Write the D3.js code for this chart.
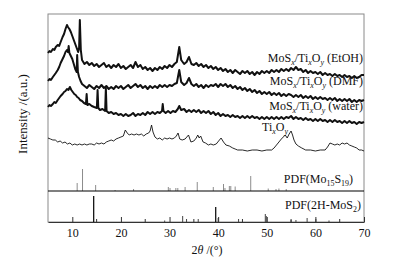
<!DOCTYPE html>
<html>
<head>
<meta charset="utf-8">
<script src="https://cdn.jsdelivr.net/npm/d3@7"></script>
<style>
  body { margin: 0; background: #fff; }
  svg { display: block; font-family: "Liberation Serif", "DejaVu Serif", serif; }
</style>
</head>
<body>
<svg id="chart" width="393" height="267"></svg>
<script>
// 2theta (deg), stacked intensity (a.u.)
const etoh = [[5,169],[5.3,171],[5.6,170],[6,173],[6.3,172],[6.6,175],[7,177],[7.3,176],[7.6,180],[8,185],[8.3,188],[8.6,193],[8.9,197],[9.1,195],[9.4,193],[9.7,190],[10,186],[10.3,182],[10.6,178],[10.9,174],[11.2,170],[11.4,174],[11.55,202],[11.75,172],[12,162],
  [12.5,158],[13,160],[13.5,157],[14,159],[14.5,156],[15,158],[15.5,155],[16,157],[16.5,159],[17,155],[17.5,157],[18,154],[18.5,157],[19,155],[19.5,158],[20,154],[20.5,156],[21,153],[21.5,155],[22,157],[22.5,154],[23,160],[23.5,155],[24,157],[24.5,153],[25,155],[25.5,152],[26,154],[26.5,151],[27,154],[27.5,152],[28,155],[28.5,153],[29,156],[29.5,154],[30,157],[30.5,155],[31,158],[31.5,160],[32,175],[32.4,162],[33,158],[33.5,160],[34,165],[34.5,158],[35,157],[35.5,159],[36,156],[36.5,158],[37,155],[37.5,157],[38,154],[38.5,156],[39,153],[39.5,155],[40,152],[40.5,154],[41,151],[41.5,153],[42,150],[42.5,152],[43,149],[43.5,152],[44,150],[44.5,148],[45,151],[45.5,149],[46,151],[46.5,148],[47,150],[47.5,147],[48,150],[48.5,148],[49,151],[49.5,149],[50,151],[50.5,149],[51,152],[51.5,150],[52,152],[52.5,150],[53,153],[53.5,151],[54,153],[54.5,151],[55,154],[55.5,152],[56,155],[56.5,152],[57,153],[57.5,150],[58,152],[58.5,149],[59,151],[59.5,149],[60,150],[60.5,148],[61,150],[61.5,147],[62,149],[62.5,147],[63,148],[63.5,146],[64,148],[64.5,146],[65,147],[65.5,145],[66,147],[66.5,145],[67,146],[67.5,144],[68,146],[68.5,144],[69,145],[69.5,147],[70,147]];

const dmf = [[5,141],[5.3,143],[5.6,142],[6,145],[6.3,147],[6.6,149],[7,152],[7.3,155],[7.6,159],[8,163],[8.3,166],[8.6,170],[8.9,172],[9.1,170],[9.25,176],[9.4,169],[9.7,166],[10,163],[10.3,158],[10.6,153],[10.9,150],[11,167],[11.15,150],[11.4,145],[11.7,141],[12,138],
  [12.5,136],[13,134],[13.5,137],[14,135],[14.5,133],[15,136],[15.5,134],[16,137],[16.5,134],[17,136],[17.5,133],[18,135],[18.5,133],[19,136],[19.5,134],[20,136],[20.5,133],[21,135],[21.5,137],[22,134],[22.5,136],[23,138],[23.5,135],[24,137],[24.5,134],[25,136],[25.5,133],[26,136],[26.5,134],[27,136],[27.5,134],[28,137],[28.5,135],[29,137],[29.5,135],[30,137],[30.5,136],[31,138],[31.5,139],[32,152],[32.4,140],[33,137],[33.5,139],[34,144],[34.5,138],[35,136],[35.5,138],[36,135],[36.5,137],[37,134],[37.5,137],[38,135],[38.5,137],[39,136],[39.5,138],[40,135],[40.5,138],[41,136],[41.5,138],[42,135],[42.5,137],[43,134],[43.5,136],[44,133],[44.5,135],[45,132],[45.5,134],[46,131],[46.5,133],[47,130],[47.5,132],[48,129],[48.5,131],[49,128],[49.5,130],[50,128],[50.5,130],[51,127],[51.5,129],[52,127],[52.5,129],[53,126],[53.5,128],[54,126],[54.5,128],[55,127],[55.5,125],[56,127],[56.5,125],[57,127],[57.5,124],[58,126],[58.5,124],[59,126],[59.5,123],[60,125],[60.5,123],[61,125],[61.5,123],[62,124],[62.5,122],[63,124],[63.5,122],[64,124],[64.5,121],[65,123],[65.5,121],[66,123],[66.5,121],[67,123],[67.5,120],[68,122],[68.5,120],[69,122],[69.5,121],[70,122]];

const water = [[5,115],[5.3,117],[5.6,116],[6,118],[6.3,120],[6.6,119],[7,122],[7.3,124],[7.6,126],[8,128],[8.3,130],[8.6,131],[8.9,133],[9.2,132],[9.5,135],[9.8,132],[10.1,130],[10.4,128],[10.7,127],[11,125],[11.3,124],[11.6,122],[12,121],[12.4,119],[12.8,118],[12.95,128],[13.1,117],[13.5,118],[14,116],[14.5,115],[15.05,114],[15.2,132],[15.35,114],[15.7,112],[16.2,113],[16.75,111],[16.9,134],[17.05,111],[17.5,109],[18,110],[18.5,108],[19,109],[19.5,107],[20,108],[20.5,106],[21,108],[21.5,106],[22,107],[22.5,109],[23,106],[23.5,108],[24,107],[24.5,109],[25,107],[25.5,110],[26,108],[26.5,110],[27,108],[27.5,110],[28,109],[28.45,111],[28.6,118],[28.75,111],[29.2,109],[29.7,111],[30.2,109],[30.7,111],[31.2,110],[31.7,113],[32,116],[32.4,112],[33,113],[33.5,110],[34,112],[34.5,110],[35,112],[35.5,110],[36,112],[36.5,109],[37,111],[37.5,109],[38,111],[38.5,108],[39,110],[39.5,107],[40,109],[40.5,106],[41,108],[41.5,106],[42,107],[42.5,105],[43,107],[43.5,105],[44,106],[44.5,104],[45,106],[45.5,104],[46,106],[46.5,104],[47,106],[47.5,104],[48,105],[48.5,103],[49,105],[49.5,103],[50,105],[50.5,103],[51,105],[51.5,103],[52,105],[52.5,103],[53,105],[53.5,103],[54,105],[54.5,104],[55,106],[55.5,103],[56,105],[56.5,103],[57,104],[57.5,102],[58,104],[58.5,102],[59,103],[59.5,101],[60,103],[60.5,101],[61,103],[61.5,101],[62,102],[62.5,100],[63,102],[63.5,100],[64,102],[64.5,100],[65,101],[65.5,99],[66,101],[66.5,99],[67,101],[67.5,99],[68,100],[68.5,98],[69,100],[69.5,99],[70,100]];

const tixoy = [[5,84],[5.5,83],[6,82],[6.5,82],[7,80],[7.5,81],[8,79],[8.5,80],[9,78],[9.5,79],[10,77],[10.5,78],[11,77],[11.5,78],[12,77],[12.5,78],[13,77],[13.5,78],[14,78],[14.5,77],[15,79],[15.5,78],[16,79],[16.5,78],[17,80],[17.5,81],[18,82],[18.5,81],[19,83],[19.5,84],[20,85],[20.5,86],[20.9,92],[21.3,89],[21.7,87],[22.2,88],[22.7,87],[23.2,88],[23.7,87],[24.2,88],[24.7,86],[25.2,88],[25.7,89],[26,91],[26.3,97],[26.6,90],[27,85],[27.5,83],[28,84],[28.5,82],[29,84],[29.5,83],[30,84],[30.5,83],[31,84],[31.4,86],[31.75,89],[32.1,83],[32.6,82],[33.2,83],[33.9,87],[34.4,80],[35,81],[35.5,84],[35.8,87],[36.1,84],[36.4,86],[36.9,80],[37.4,79],[38,77],[38.5,78],[39,77],[39.6,78],[40.1,81],[40.6,84],[41.1,80],[41.6,77],[42.3,76],[43,74],[43.5,73],[44,72],[45,72],[46,71],[47,72],[48,72],[49,71],[50,72],[51,72],[51.5,74],[52,77],[52.5,80],[53,83],[53.4,85],[53.8,87],[54.2,84],[54.6,88],[55,91],[55.3,87],[55.6,82],[56,78],[56.5,76],[57.2,74],[58,72],[59,72],[60,71],[61,72],[62,72],[62.5,75],[63,79],[63.5,78],[64,77],[64.5,78],[65,77],[65.5,79],[66,78],[66.5,79],[67,77],[67.5,76],[68,75],[68.5,74],[69,72],[69.5,72],[70,71]];

// reference patterns: 2theta, relative intensity
const pdfMo15S19 = [[11.0,8],[12.1,22],[14.8,6],[18.8,1],[22.6,2],[29.75,4],[30.1,3],[31.3,3],[31.7,3],[33.2,4],[35.7,9],[39.0,4],[41.1,7],[41.4,3],[42.3,5],[42.6,5],[43.5,4.5],[46.7,15],[50.3,2.5],[51.9,2],[52.5,2.5],[54.0,2]];
const pdfMoS2 = [[14.4,26],[29.0,1.5],[32.7,6],[33.5,3],[35.9,3],[39.5,15],[40.0,4],[44.2,3],[49.7,8],[49.9,6],[55.0,2],[56.0,2],[58.3,4],[60.1,3],[62.8,1.5]];

const majorTicks = [10, 20, 30, 40, 50, 60, 70];
const minorTicks = [15, 25, 35, 45, 55, 65];

const svg = d3.select('#chart');
const x = d3.scaleLinear().domain([5, 70]).range([48, 364]);
const y = d3.scaleLinear().domain([0, 208]).range([222, 14]);
const pdfSplit = 31;  // a.u. level of the line between the two PDF panels

const line = d3.line().x(d => x(d[0])).y(d => y(d[1]));

// frame
svg.append('rect')
  .attr('x', x(5)).attr('y', y(208))
  .attr('width', x(70) - x(5)).attr('height', y(0) - y(208))
  .attr('fill', 'none').attr('stroke', '#8a8a8a').attr('stroke-width', 1);

// patterns
[etoh, dmf, water].forEach(s => {
  svg.append('path').datum(s)
    .attr('d', line)
    .attr('fill', 'none').attr('stroke', '#111').attr('stroke-width', 2)
    .attr('stroke-linejoin', 'round');
});
svg.append('path').datum(tixoy)
  .attr('d', line)
  .attr('fill', 'none').attr('stroke', '#111').attr('stroke-width', 0.9);

// PDF sticks
svg.selectAll('.mo15').data(pdfMo15S19).join('line')
  .attr('x1', d => x(d[0])).attr('x2', d => x(d[0]))
  .attr('y1', y(pdfSplit)).attr('y2', d => y(pdfSplit + d[1]))
  .attr('stroke', '#8c8c8c').attr('stroke-width', 1);
svg.selectAll('.mos2').data(pdfMoS2).join('line')
  .attr('x1', d => x(d[0])).attr('x2', d => x(d[0]))
  .attr('y1', y(0)).attr('y2', d => y(d[1]))
  .attr('stroke', d => d[1] > 10 ? '#000' : '#444')
  .attr('stroke-width', d => d[1] > 10 ? 1.2 : 1);

svg.append('line')
  .attr('x1', x(5)).attr('x2', x(70))
  .attr('y1', y(pdfSplit)).attr('y2', y(pdfSplit))
  .attr('stroke', '#000').attr('stroke-width', 1.2);

// x axis
const ax = svg.append('g').attr('transform', `translate(0,${y(0)})`)
  .call(d3.axisBottom(x).tickValues(majorTicks).tickSize(0).tickPadding(6).tickFormat(d3.format('d')));
ax.select('.domain').attr('stroke', '#333');
ax.selectAll('text').attr('font-size', 12).attr('font-family', '"Liberation Serif", serif').attr('fill', '#111');
ax.selectAll('.tick').append('line').attr('y2', -5).attr('stroke', '#333');
svg.selectAll('.minor').data(minorTicks).join('line')
  .attr('x1', d => x(d)).attr('x2', d => x(d))
  .attr('y1', y(0)).attr('y2', y(0) - 3)
  .attr('stroke', '#333');

// labels
function label(xp, yp, parts, size, anchor) {
  const t = svg.append('text').attr('x', xp).attr('y', yp)
    .attr('font-size', size).attr('text-anchor', anchor).attr('fill', '#111');
  let shift = 0;
  parts.forEach(p => {
    const s = t.append('tspan').text(p[0]);
    const want = p[1] ? 3 : 0;
    if (want !== shift) { s.attr('dy', want - shift); shift = want; }
    if (p[1]) s.attr('font-size', size * 0.66).attr('font-style', p[2] ? 'italic' : null);
  });
  return t;
}
label(363, 62, [['MoS'], ['x', 1, 1], ['/Ti'], ['x', 1, 1], ['O'], ['y', 1, 1], [' (EtOH)']], 12, 'end');
label(363, 85, [['MoS'], ['x', 1, 1], ['/Ti'], ['x', 1, 1], ['O'], ['y', 1, 1], [' (DMF)']], 12, 'end');
label(363, 110, [['MoS'], ['x', 1, 1], ['/Ti'], ['x', 1, 1], ['O'], ['y', 1, 1], [' (water)']], 12, 'end');
label(262, 131, [['Ti'], ['x', 1, 1], ['O'], ['y', 1, 1]], 12, 'start');
label(353, 183, [['PDF(Mo'], ['15', 1], ['S'], ['19', 1], [')']], 12, 'end');
label(361, 209, [['PDF(2H-MoS'], ['2', 1], [')']], 12, 'end');

svg.append('text')
  .attr('transform', 'translate(27,114) rotate(-90)')
  .attr('text-anchor', 'middle').attr('font-size', 13).attr('fill', '#111')
  .text('Intensity /(a.u.)');

const xl = svg.append('text').attr('x', 207).attr('y', 254)
  .attr('text-anchor', 'middle').attr('font-size', 12).attr('fill', '#111');
xl.append('tspan').text('2');
xl.append('tspan').attr('font-style', 'italic').text('θ');
xl.append('tspan').text(' /(°)');
</script>
</body>
</html>
